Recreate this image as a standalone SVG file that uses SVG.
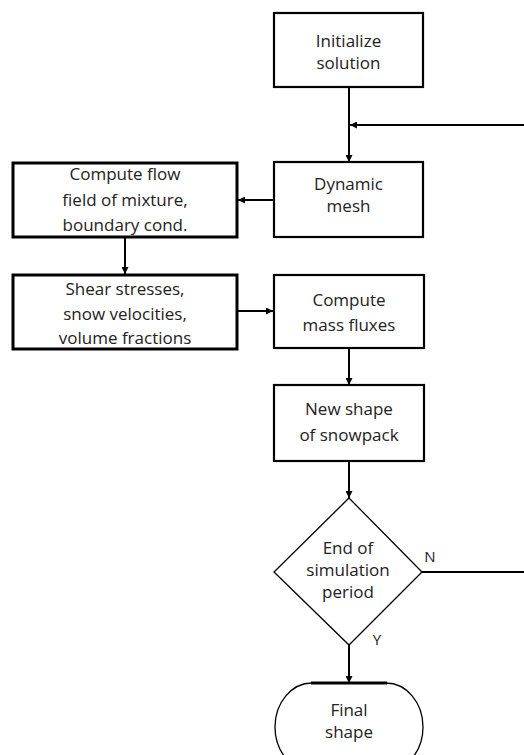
<svg xmlns="http://www.w3.org/2000/svg" width="524" height="755" viewBox="0 0 524 755">
<defs>
<marker id="ah" viewBox="0 0 10 10" refX="10" refY="5" markerWidth="8" markerHeight="7" markerUnits="userSpaceOnUse" orient="auto">
<path d="M0,0 L10,5 L0,10 Z" fill="#000"/>
</marker>
<style>
.box{fill:#fff;stroke:#000;stroke-width:2.2}
.lbox{fill:#fff;stroke:#000;stroke-width:3}
.thin{fill:#fff;stroke:#000;stroke-width:1.3}
.t{font-family:"Open Sans","DejaVu Sans",sans-serif;font-size:17px;fill:#222;text-anchor:middle}
.s{font-family:"Open Sans","DejaVu Sans",sans-serif;font-size:15px;fill:#222;text-anchor:middle}
.c{fill:none;stroke:#000;stroke-width:2}
</style>
</defs>
<rect width="524" height="755" fill="#fff"/>
<g id="connectors">
<line class="c" x1="349" y1="87" x2="349" y2="162" marker-end="url(#ah)"/>
<line class="c" x1="524" y1="125" x2="350" y2="125" marker-end="url(#ah)"/>
<line class="c" x1="273" y1="200" x2="238" y2="200" marker-end="url(#ah)"/>
<line class="c" x1="125" y1="238" x2="125" y2="274" marker-end="url(#ah)"/>
<line class="c" x1="238" y1="311" x2="273" y2="311" marker-end="url(#ah)"/>
<line class="c" x1="349" y1="348" x2="349" y2="385" marker-end="url(#ah)"/>
<line class="c" x1="349" y1="461" x2="349" y2="498" marker-end="url(#ah)"/>
<line class="c" x1="422" y1="572" x2="524" y2="572"/>
<line class="c" x1="349" y1="645" x2="349" y2="683" marker-end="url(#ah)"/>
<text class="s" x="430" y="562">N</text>
<text class="s" x="377" y="645">Y</text>
</g>
<g id="initialize">
<rect class="box" x="274" y="13" width="149" height="74"/>
<text class="t" x="348.5" y="47">Initialize</text>
<text class="t" x="348.5" y="69">solution</text>
</g>
<g id="dynamic-mesh">
<rect class="box" x="274" y="162" width="149" height="75"/>
<text class="t" x="348.5" y="190">Dynamic</text>
<text class="t" x="348.5" y="212">mesh</text>
</g>
<g id="compute-flow">
<rect class="lbox" x="13" y="163" width="224" height="74"/>
<text class="t" x="125" y="180">Compute flow</text>
<text class="t" x="125" y="206">field of mixture,</text>
<text class="t" x="125" y="231">boundary cond.</text>
</g>
<g id="shear-stresses">
<rect class="lbox" x="13" y="275" width="224" height="74"/>
<text class="t" x="125" y="295">Shear stresses,</text>
<text class="t" x="125" y="320">snow velocities,</text>
<text class="t" x="125" y="344">volume fractions</text>
</g>
<g id="mass-fluxes">
<rect class="box" x="274" y="275" width="150" height="73"/>
<text class="t" x="349" y="306">Compute</text>
<text class="t" x="349" y="331">mass fluxes</text>
</g>
<g id="new-shape">
<rect class="box" x="274" y="385" width="150" height="76"/>
<text class="t" x="349" y="415">New shape</text>
<text class="t" x="349" y="441">of snowpack</text>
</g>
<g id="end-decision">
<polygon class="thin" points="349,498 422,572 349,645 274,572"/>
<text class="t" x="348" y="554">End of</text>
<text class="t" x="348" y="576">simulation</text>
<text class="t" x="348" y="598">period</text>
</g>
<g id="final-shape">
<path class="thin" d="M312,683 L386,683 A37,44 0 0 1 386,771 L312,771 A37,44 0 0 1 312,683 Z"/>
<line x1="311" y1="683" x2="387" y2="683" stroke="#000" stroke-width="3"/>
<text class="t" x="349" y="716">Final</text>
<text class="t" x="349" y="738">shape</text>
</g>
</svg>
